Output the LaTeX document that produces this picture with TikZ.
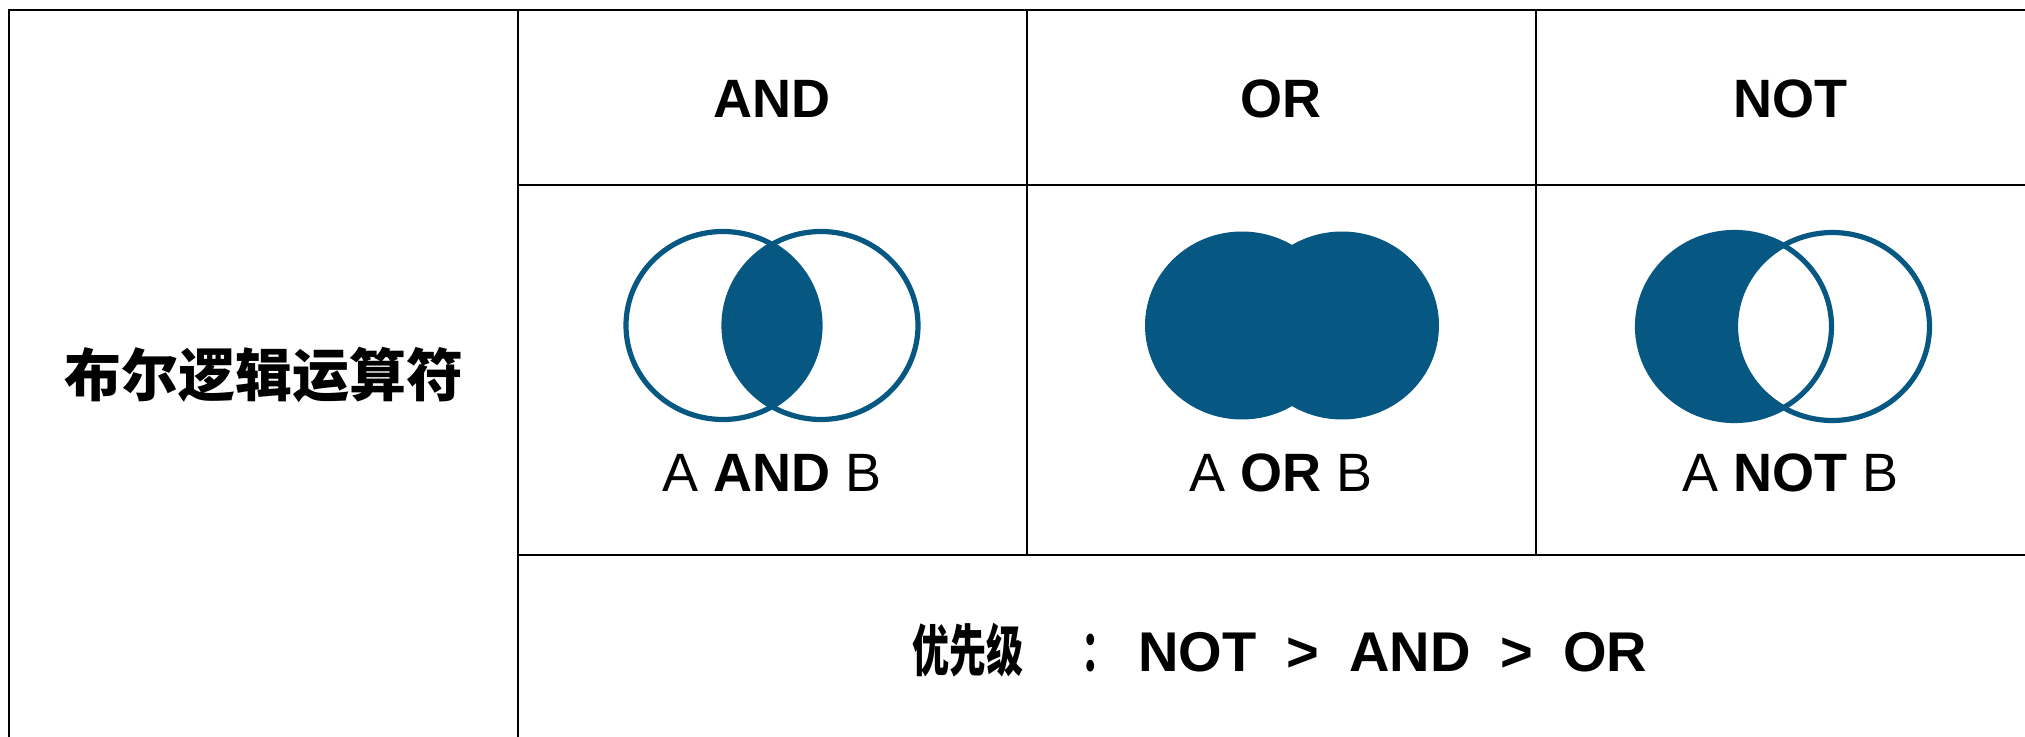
\documentclass[tikz,border=0pt]{standalone}
\usepackage{fontspec}
\setmainfont{Liberation Sans}
\newfontfamily\cjk{Noto Sans CJK SC}
\definecolor{vblue}{RGB}{6,88,130}
\begin{document}
\begin{tikzpicture}[x=0.5pt,y=-0.5pt,
  grid/.style={line width=1.2pt, draw=black},
  venn/.style={line width=2.6pt, draw=vblue},
  head/.style={font=\fontsize{27}{31}\selectfont\bfseries, inner sep=0pt},
  lab/.style={font=\fontsize{27}{31}\selectfont, inner sep=0pt}]
\useasboundingbox (0,0) rectangle (2025,737);
\fill[white] (0,0) rectangle (2025,737);
% grid
\draw[grid] (9,737) -- (9,10) -- (2025,10);
\draw[grid] (518,10) -- (518,737);
\draw[grid] (518,185) -- (2025,185);
\draw[grid] (518,555) -- (2025,555);
\draw[grid] (1027,10) -- (1027,555);
\draw[grid] (1536,10) -- (1536,555);
% headers
\node[head] (hand) at (772,99) {AND};
\node[head] (hor) at (1281,99) {OR};
\node[head] (hnot) at (1790,99) {NOT};
% left label
\node[inner sep=0pt, font=\cjk\fontsize{28.5}{32}\selectfont\bfseries] (title) at (264,375) {布尔逻辑运算符};
% AND venn
\begin{scope}
  \clip (723,325.5) ellipse [x radius=97, y radius=94];
  \fill[vblue] (821,325.5) ellipse [x radius=97, y radius=94];
\end{scope}
\draw[venn] (723,325.5) ellipse [x radius=97, y radius=94];
\draw[venn] (821,325.5) ellipse [x radius=97, y radius=94];
% OR venn
\fill[vblue] (1242,325.5) ellipse [x radius=97, y radius=94];
\fill[vblue] (1342,325.5) ellipse [x radius=97, y radius=94];
% NOT venn
\fill[vblue] (1734.5,326.5) ellipse [x radius=97, y radius=94];
\begin{scope}
  \clip (1734.5,326.5) ellipse [x radius=97, y radius=94];
  \fill[white] (1832.5,326.5) ellipse [x radius=97, y radius=94];
\end{scope}
\draw[venn] (1734.5,326.5) ellipse [x radius=97, y radius=94];
\draw[venn] (1832.5,326.5) ellipse [x radius=97, y radius=94];
% labels
\node[lab] (land) at (772,473) {A \textbf{AND} B};
\node[lab] (lor) at (1281,473) {A \textbf{OR} B};
\node[lab] (lnot) at (1790,473) {A \textbf{NOT} B};
% priority
\node[inner sep=0pt, font=\fontsize{28}{32}\selectfont\bfseries] (prio) at (1280,650)
  {{\cjk\bfseries\scalebox{0.66}[1]{优先级}}\hspace{29pt}{\cjk\bfseries\scalebox{0.66}[1]{：}}\hspace{10pt}NOT\hspace{15pt}>\hspace{15pt}AND\hspace{15pt}>\hspace{15pt}OR};
\end{tikzpicture}
\end{document}
